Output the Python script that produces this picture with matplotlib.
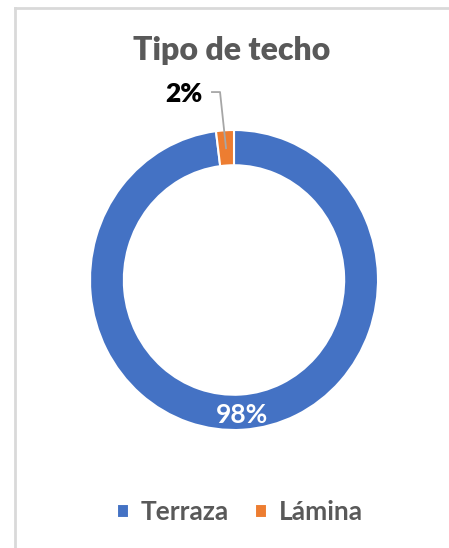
import numpy as np
import matplotlib.pyplot as plt
from matplotlib.lines import Line2D

categories = ['Terraza', 'Lámina']
values = [98, 2]
colors = ['#4472C4', '#ED7D31']
title = 'Tipo de techo'

plt.rcParams['font.family'] = ['Lato', 'DejaVu Sans']

W, H = 449, 548
fig = plt.figure(figsize=(W / 100, H / 100), dpi=100)

# chart frame (top and left edges visible in the screenshot)
fig.add_artist(Line2D([15 / W, 15 / W], [0, 1 - 8 / H], color='#d9d9d9', lw=2))
fig.add_artist(Line2D([15 / W, 1], [1 - 8 / H, 1 - 8 / H], color='#d9d9d9', lw=2))

# the screenshot is slightly stretched vertically
cx, cy, rx, ry = 234, 280, 144, 150
ax = fig.add_axes([(cx - rx) / W, 1 - (cy + ry) / H, 2 * rx / W, 2 * ry / H])
wedges, _ = ax.pie(values, colors=colors, startangle=90, counterclock=False,
                   radius=1, wedgeprops=dict(width=0.235, edgecolor='white', linewidth=1.5))
ax.set_aspect('auto')
ax.set_xlim(-1, 1)
ax.set_ylim(-1, 1)
ax.axis('off')

total = sum(values)
# big slice label inside the ring
w = wedges[0]
ang = np.deg2rad((w.theta1 + w.theta2) / 2)
ax.text(0.9 * np.cos(ang), 0.9 * np.sin(ang), f'{values[0] / total:.0%}',
        ha='center', va='center', color='white', fontsize=19, fontweight='bold')

# small slice label with leader line
w = wedges[1]
ang = np.deg2rad((w.theta1 + w.theta2) / 2)
ex, ey = 0.88 * np.cos(ang), 0.88 * np.sin(ang)
ax.plot([-0.153, -0.097, ex], [1.253, 1.253, ey], color='#a6a6a6', lw=1.3, clip_on=False)
ax.text(-0.347, 1.24, f'{values[1] / total:.0%}', ha='center', va='center',
        color='black', fontsize=19, fontweight='heavy')

fig.text(232 / W, 1 - 50 / H, title, ha='center', va='center',
         fontsize=23, fontweight='heavy', color='#595959')

fig.legend(wedges, categories, loc='center', bbox_to_anchor=(240 / W, 1 - 512 / H),
           ncol=2, frameon=False, handlelength=0.45, handleheight=0.45,
           handletextpad=0.45, columnspacing=1.0, labelcolor='#595959',
           prop=dict(weight='bold', size=19))

fig.savefig('out.png', dpi=100)
